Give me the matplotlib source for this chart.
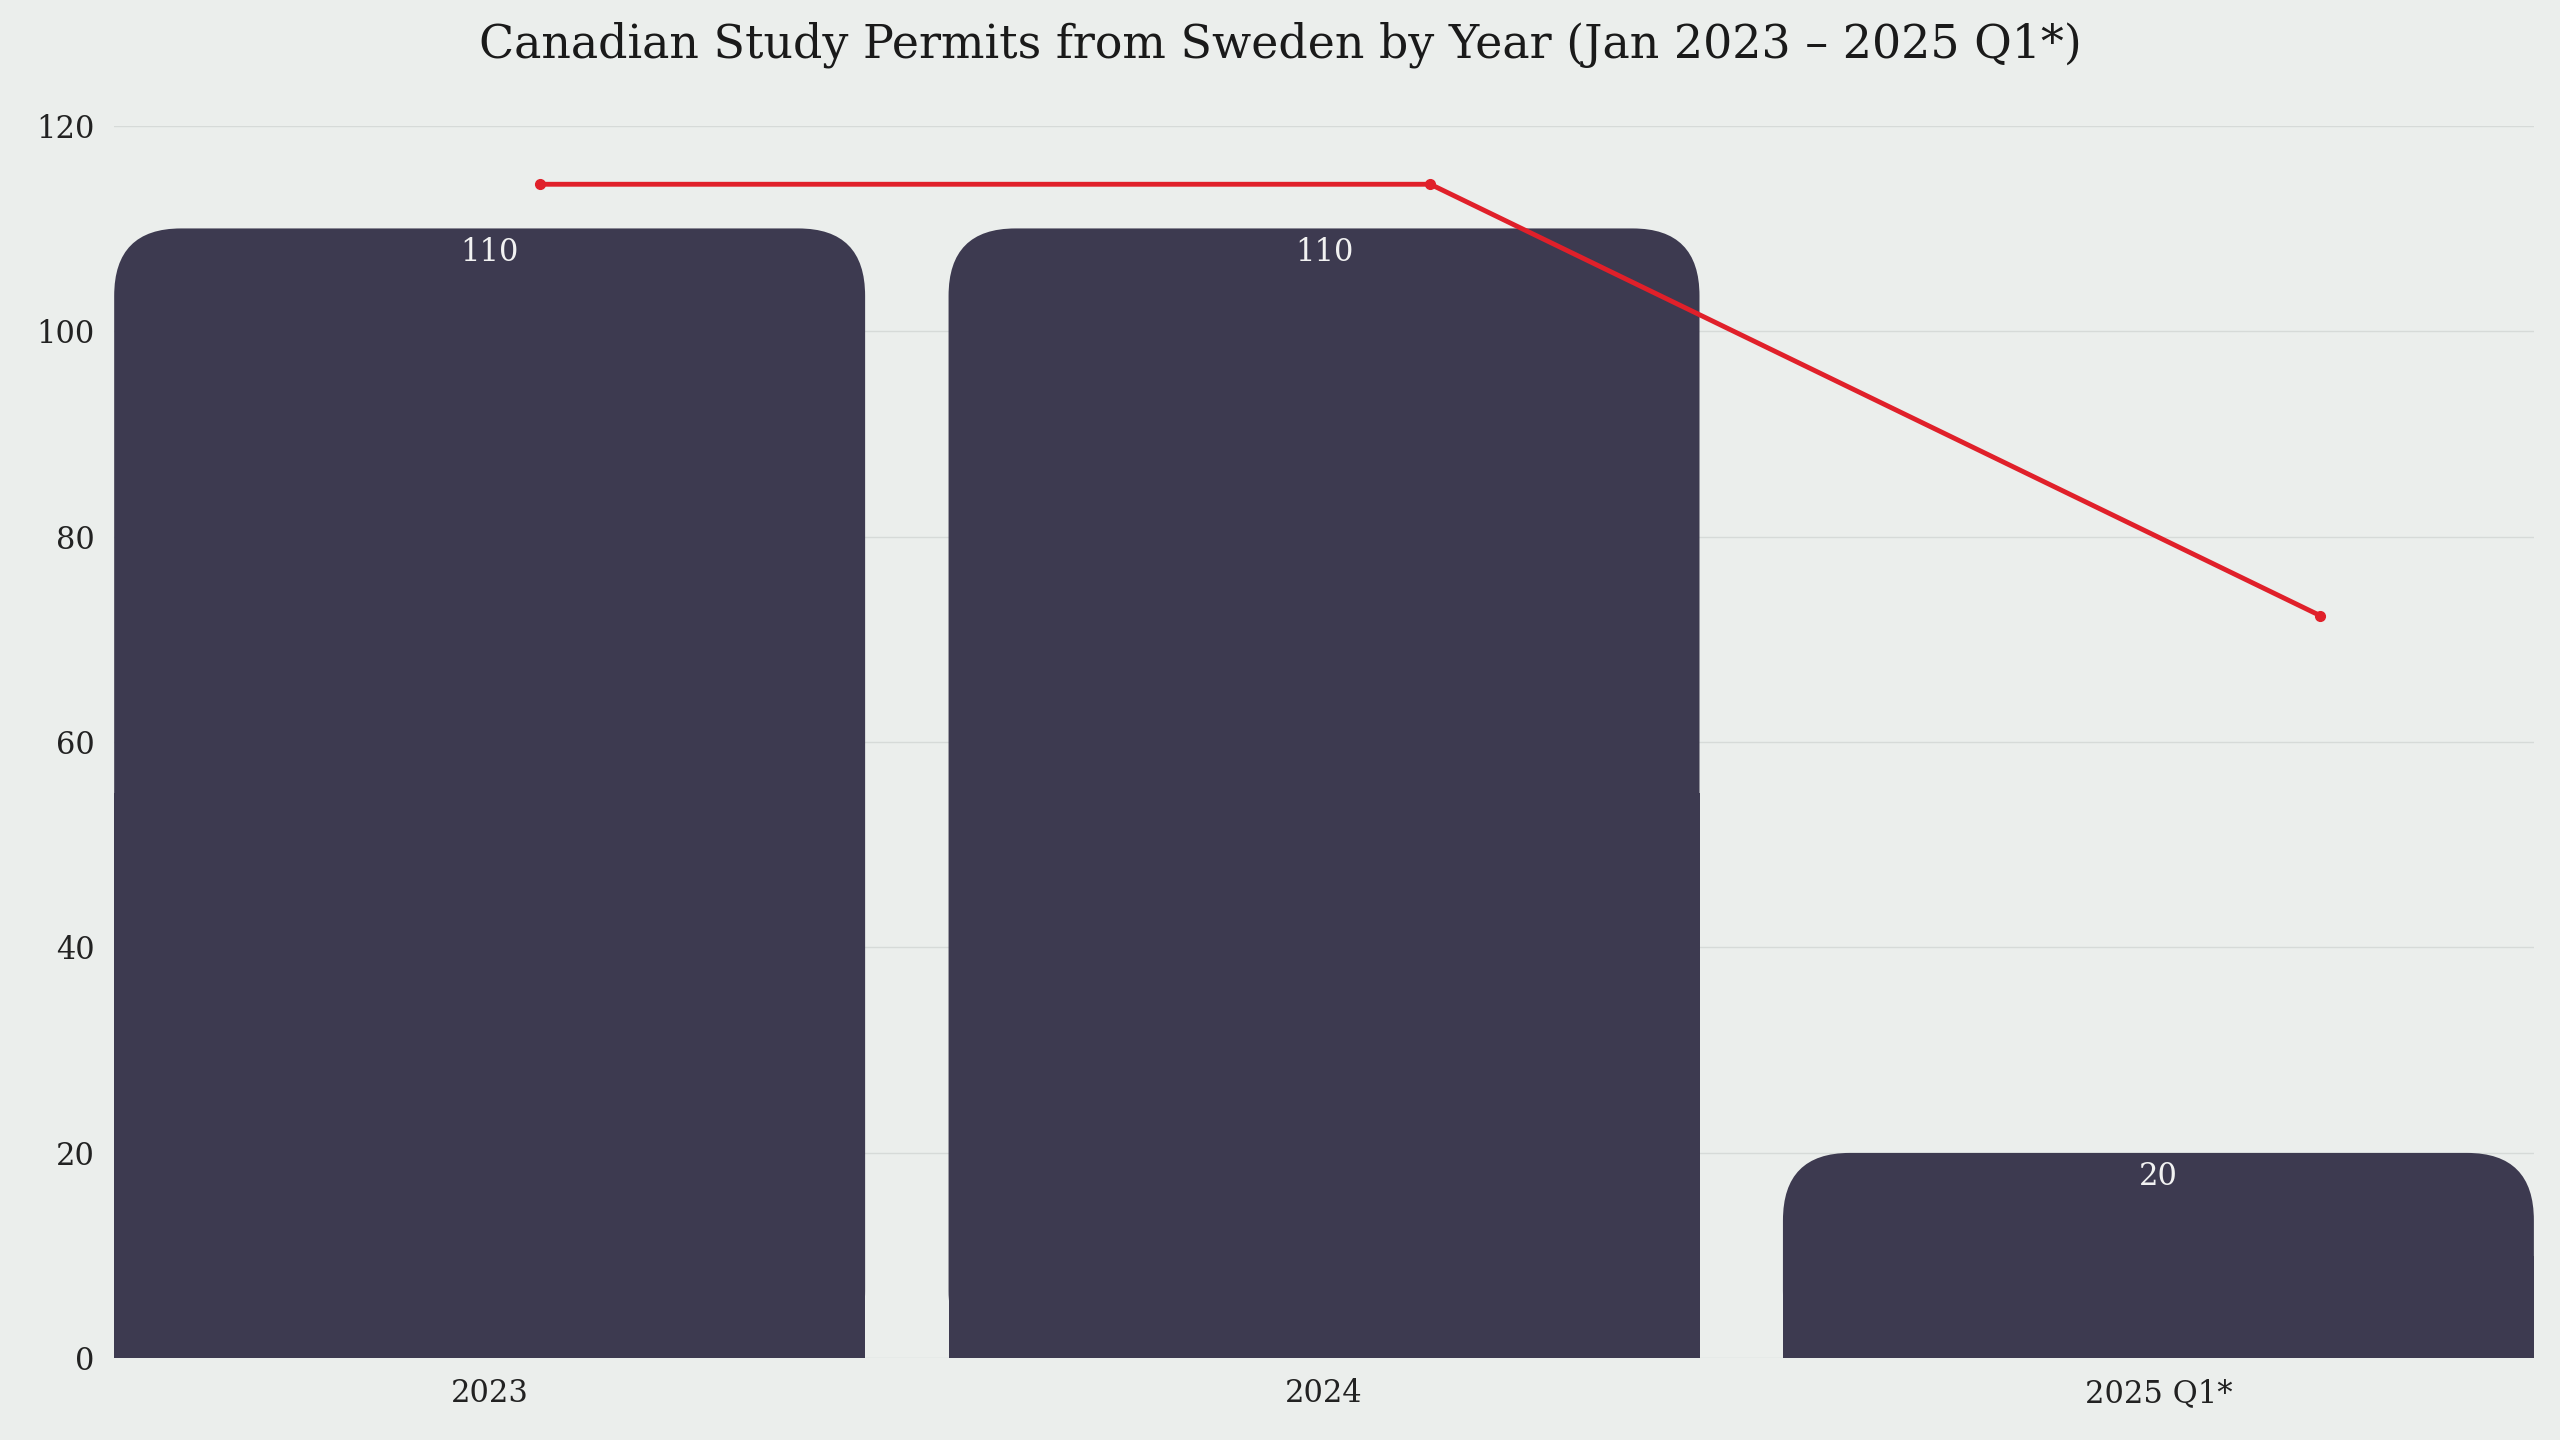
import matplotlib
matplotlib.use("Agg")
import matplotlib.pyplot as plt
from matplotlib.patches import FancyBboxPatch, Rectangle

categories = ["2023", "2024", "2025 Q1*"]
permits = [110, 110, 20]
trend = [114.3, 114.3, 72.3]
yticks = [0, 20, 40, 60, 80, 100, 120]

bg = "#ebeeec"
bar_c = "#3d3a50"
red = "#e0202a"
font = "DejaVu Serif"

fig = plt.figure(figsize=(25.6, 14.4), dpi=100, facecolor=bg)
ax = fig.add_axes([0.0446, 0.0567, 0.9452, 0.856], facecolor=bg)
ax.set_xlim(-0.45, 2.45)
ax.set_ylim(0, 120)
w = 0.9
r = 0.08
asp = 82
for i, v in enumerate(permits):
    ax.add_patch(FancyBboxPatch((i - w/2, 0), w, v,
                 boxstyle=f"round,pad=0,rounding_size={r}",
                 mutation_aspect=asp, fc=bar_c, ec="none", zorder=2))
    ax.add_patch(Rectangle((i - w/2, 0), w, v/2, fc=bar_c, ec="none", zorder=2))
    ax.text(i, v - 2.3, str(v), ha="center", va="center", color="#f2f2f2",
            fontsize=22, family=font, zorder=3)
ax.set_xticks(range(len(categories)))
ax.set_xticklabels(categories)
ax.set_yticks(yticks)
ax.grid(axis="y", color="#d6dad8", lw=1, zorder=0)
ax.tick_params(length=0, labelsize=22, pad=14)
for lab in ax.get_xticklabels() + ax.get_yticklabels():
    lab.set_family(font)
    lab.set_color("#222222")
for s in ax.spines.values():
    s.set_visible(False)

ax2 = ax.twiny()
ax2.set_xlim(-0.479, 2.240)
ax2.set_ylim(0, 120)
ax2.plot(range(len(trend)), trend, color=red, lw=3.5, marker="o", ms=7, zorder=4)
ax2.axis("off")

fig.suptitle("Canadian Study Permits from Sweden by Year (Jan 2023 – 2025 Q1*)",
             y=0.985, fontsize=33, family=font, color="#1a1a1a")
fig.savefig("out.png", facecolor=bg)
